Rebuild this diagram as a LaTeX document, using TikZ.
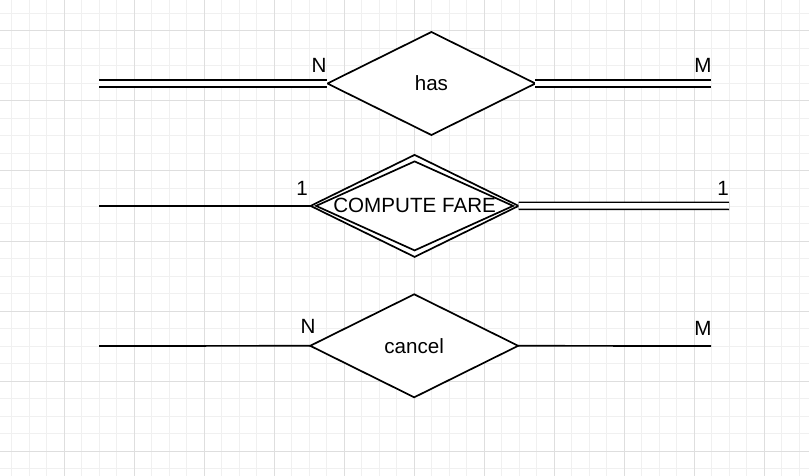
\documentclass[tikz,border=0pt]{standalone}
\usepackage{fontspec}
\setmainfont{Liberation Sans}
\usetikzlibrary{shapes.geometric}
\definecolor{gridminor}{RGB}{240,240,240}
\definecolor{gridmajor}{RGB}{222,222,222}
\tikzset{
  rel/.style={diamond, aspect=2, draw=black, fill=white, line width=1.7pt, inner sep=0pt, outer sep=0pt,
    minimum width=208pt, minimum height=103pt, font=\fontsize{20.6pt}{24pt}\selectfont},
  relinner/.style={diamond, aspect=2, draw=black, line width=1.7pt, inner sep=0pt, outer sep=0pt,
    minimum width=197pt, minimum height=89pt},
  card/.style={inner sep=0pt, outer sep=0pt, font=\fontsize{20.6pt}{24pt}\selectfont},
  sgl/.style={draw=black, line width=1.7pt},
  dbl/.style={draw=black, double=white, double distance=5.5pt, line width=1.5pt},
}
\begin{document}
\begin{tikzpicture}[x=1pt,y=-1pt]
\useasboundingbox (0,0) rectangle (809,476);
\fill[white] (0,0) rectangle (809,476);
% grid
\foreach \i in {0,...,45} {\draw[gridminor, line width=1pt] ({11.8+17.5*\i},0) -- ({11.8+17.5*\i},476);}
\foreach \i in {0,...,26} {\draw[gridminor, line width=1pt] (0,{13.5+17.5*\i}) -- (809,{13.5+17.5*\i});}
\foreach \i in {0,...,10} {\draw[gridmajor, line width=1pt] ({64.3+70*\i},0) -- ({64.3+70*\i},476);}
\foreach \i in {0,...,6} {\draw[gridmajor, line width=1pt] (0,{31+70*\i}) -- (809,{31+70*\i});}

% relationship: has
\node[rel] (has) at (431.4,83.5) {has};
\coordinate (hasL) at (99,83.5);
\coordinate (hasR) at (711,83.5);
\draw[dbl] (hasL) -- (has.west);
\draw[dbl] (has.east) -- (hasR);
\node[card] (hasN) at (319,65.3) {N};
\node[card] (hasM) at (703,65.8) {M};

% relationship: COMPUTE FARE (identifying)
\node[rel, minimum height=102pt] (cf) at (414.6,205.9) {COMPUTE FARE};
\node[relinner] (cfin) at (414.6,205.9) {};
\coordinate (cfL) at (99,206);
\coordinate (cfR) at (729,206);
\draw[sgl] (cfL) -- (cf.west);
\draw[dbl] (cf.east) -- (cfR);
\node[card] (cf1a) at (302,188.5) {1};
\node[card] (cf1b) at (723,188.8) {1};

% relationship: cancel
\node[rel] (cancel) at (414.2,345.8) {cancel};
\coordinate (caL) at (99,346);
\coordinate (caR) at (711,346);
\draw[sgl] (caL) -- (cancel.west);
\draw[sgl] (cancel.east) -- (caR);
\node[card] (caN) at (308,326) {N};
\node[card] (caM) at (703,328.3) {M};
\end{tikzpicture}
\end{document}
